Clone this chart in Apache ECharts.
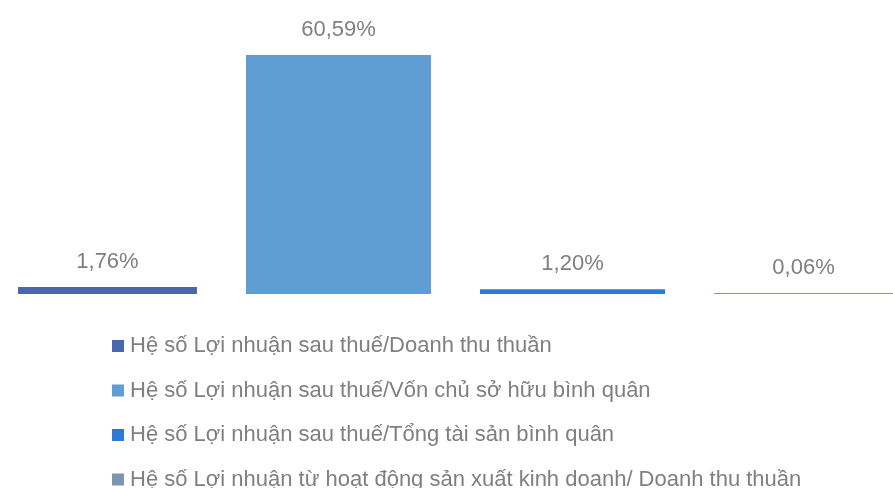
<!DOCTYPE html>
<html>
<head>
<meta charset="utf-8">
<script src="https://cdn.jsdelivr.net/npm/echarts@6/dist/echarts.min.js"></script>
<style>
  html, body { margin: 0; padding: 0; background: #fff; }
  #chart { width: 893px; height: 488px; }
</style>
</head>
<body>
<div id="chart"></div>
<script>
  // single group, one series per ratio
  const categories = ['']
  const seriesNames = [
    'Hệ số Lợi nhuận sau thuế/Doanh thu thuần',
    'Hệ số Lợi nhuận sau thuế/Vốn chủ sở hữu bình quân',
    'Hệ số Lợi nhuận sau thuế/Tổng tài sản bình quân',
    'Hệ số Lợi nhuận từ hoạt động sản xuất kinh doanh/ Doanh thu thuần'
  ]
  const seriesValues = [1.76, 60.59, 1.20, 0.06]
  const colors = ['#4A66AC', '#5F9DD2', '#2B7BD6', '#7F93B2']

  const chart = echarts.init(document.getElementById('chart'))
  const font = 'Liberation Sans, Arial, sans-serif'

  const option = {
    animation: false,
    color: colors,
    grid: {
      left: 18,
      width: 915,
      top: 18,
      bottom: 194
    },
    xAxis: {
      type: 'category',
      data: categories,
      show: false
    },
    yAxis: {
      type: 'value',
      min: 0,
      max: 70,
      show: false
    },
    legend: {
      orient: 'vertical',
      left: 107,
      top: 330,
      height: 170,
      itemWidth: 12,
      itemHeight: 12,
      itemGap: 22.5,
      icon: 'rect',
      textStyle: {
        color: '#7F7F7F',
        fontSize: 22,
        lineHeight: 20,
        fontFamily: font,
        padding: [0, 0, 0, 1]
      },
      data: seriesNames
    },
    series: seriesNames.map((name, i) => ({
      name: name,
      type: 'bar',
      data: [seriesValues[i]],
      barWidth: 185,
      barGap: '26.5%',
      barMinHeight: 1,
      label: {
        show: true,
        position: 'top',
        distance: 14,
        color: '#7F7F7F',
        fontSize: 22,
        fontFamily: font,
        formatter: p => p.value.toFixed(2).replace('.', ',') + '%'
      }
    }))
  }
  chart.setOption(option)
</script>
</body>
</html>
